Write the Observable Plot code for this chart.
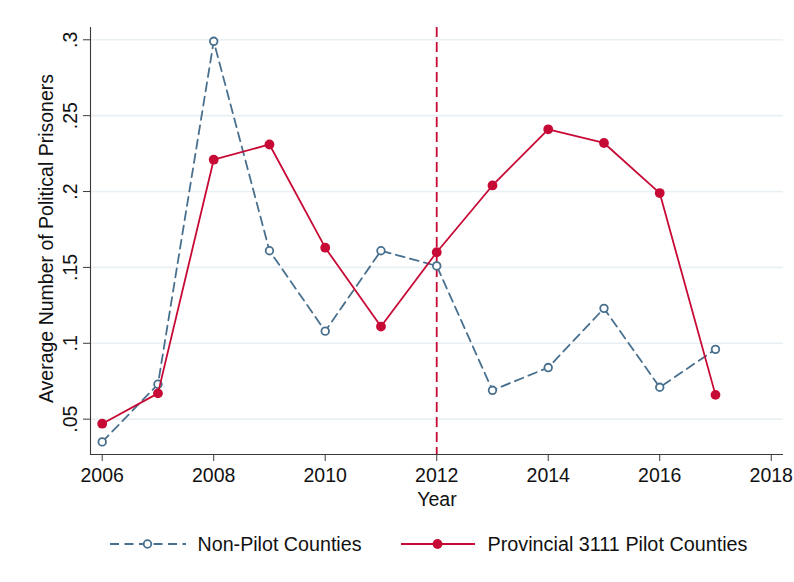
<!DOCTYPE html>
<html><head><meta charset="utf-8">
<script src="https://cdn.jsdelivr.net/npm/d3@7"></script>
<script src="https://cdn.jsdelivr.net/npm/@observablehq/plot@0.6"></script>
<style>
body{margin:0;background:#fff;font-family:"Liberation Sans",Arial,Helvetica,sans-serif;}
#wrap{position:relative;width:794px;height:582px;overflow:hidden;}
#chart svg{display:block;}
#legend{position:absolute;left:0;top:0;width:794px;height:582px;pointer-events:none;}
</style></head><body>
<div id="wrap"><div id="chart"></div><svg id="legend" width="794" height="582"></svg></div>
<script>
const years = [2006, 2007, 2008, 2009, 2010, 2011, 2012, 2013, 2014, 2015, 2016, 2017];
const nonPilot = [0.035, 0.073, 0.299, 0.161, 0.108, 0.161, 0.151, 0.069, 0.084, 0.123, 0.071, 0.096];
const pilot = [0.047, 0.067, 0.221, 0.231, 0.163, 0.111, 0.160, 0.204, 0.241, 0.232, 0.199, 0.066];
const xTicks = [2006, 2008, 2010, 2012, 2014, 2016, 2018];
const yTicks = [0.05, 0.1, 0.15, 0.2, 0.25, 0.3];
const yTickLabels = [".05", ".1", ".15", ".2", ".25", ".3"];
const seriesNames = ["Non-Pilot Counties", "Provincial 3111 Pilot Counties"];
const policyYear = [2012];
const xLabel = "Year";
const yLabel = "Average Number of Political Prisoners";

const blue = "#48708e";
const red = "#c70a35";
const axisColor = "#3a3a3a";
const font = '"Liberation Sans", Arial, Helvetica, sans-serif';

const npData = years.map((y, i) => ({year: y, value: nonPilot[i]}));
const pData = years.map((y, i) => ({year: y, value: pilot[i]}));
const xDom = [2005.79, 2018.22];
const yDom = [0.0267, 0.3081];

const chart = Plot.plot({
  width: 794,
  height: 515,
  marginLeft: 90,
  marginRight: 11,
  marginTop: 27,
  marginBottom: 61,
  style: {fontFamily: font, fontSize: "19px", color: "#111", background: "#fff"},
  x: {domain: xDom},
  y: {domain: yDom},
  marks: [
    Plot.gridY(yTicks, {stroke: "#e9f0f3", strokeOpacity: 1, strokeWidth: 1.6}),
    Plot.ruleY([yDom[0]], {stroke: axisColor, strokeWidth: 1.1}),
    Plot.ruleX([xDom[0]], {stroke: axisColor, strokeWidth: 1.1}),
    Plot.axisX(xTicks, {tickSize: 7, tickPadding: 7, stroke: axisColor, tickFormat: d => String(d), label: null, fontSize: 19.5, fill: "#111"}),
    Plot.axisY(yTicks, {tickSize: 7, tickPadding: 7, tickRotate: -90, stroke: axisColor, tickFormat: (d, i) => yTickLabels[yTicks.indexOf(d)], label: null, fontSize: 19.5, fill: "#111"}),
    Plot.ruleX(policyYear, {stroke: red, strokeWidth: 1.8, strokeDasharray: "10,5"}),
    Plot.line(npData, {x: "year", y: "value", stroke: blue, strokeWidth: 1.8, strokeDasharray: "9,5.5"}),
    Plot.dot(npData, {x: "year", y: "value", r: 3.8, stroke: blue, strokeWidth: 1.8, fill: "white"}),
    Plot.line(pData, {x: "year", y: "value", stroke: red, strokeWidth: 1.8}),
    Plot.dot(pData, {x: "year", y: "value", r: 4.9, fill: red, stroke: "none"}),
    Plot.text([xLabel], {frameAnchor: "bottom", dy: 51, lineAnchor: "bottom", fontSize: 19.5, fill: "#111"}),
    Plot.text([yLabel], {frameAnchor: "left", dx: -38, dy: -2.5, rotate: -90, lineAnchor: "bottom", textAnchor: "middle", fontSize: 19.5, fill: "#111"})
  ]
});
document.getElementById("chart").appendChild(chart);

// legend
const leg = d3.select("#legend");
const items = [
  {name: seriesNames[0], x1: 110, x2: 186, cx: 147.5, color: blue, dash: "9,5.5", hollow: true, tx: 197.5, len: 164},
  {name: seriesNames[1], x1: 401, x2: 475, cx: 437.5, color: red, dash: null, hollow: false, tx: 487.5, len: 260}
];
const ly = 544;
for (const it of items) {
  leg.append("line").attr("x1", it.x1).attr("x2", it.x2).attr("y1", ly).attr("y2", ly)
    .attr("stroke", it.color).attr("stroke-width", 1.8).attr("stroke-dasharray", it.dash);
  if (it.hollow) {
    leg.append("circle").attr("cx", it.cx).attr("cy", ly).attr("r", 3.8).attr("fill", "white").attr("stroke", it.color).attr("stroke-width", 1.8);
  } else {
    leg.append("circle").attr("cx", it.cx).attr("cy", ly).attr("r", 4.9).attr("fill", it.color);
  }
  leg.append("text").attr("x", it.tx).attr("y", ly + 7).text(it.name)
    .attr("font-family", font)
    .attr("font-size", 19.6).attr("fill", "#111")
    .attr("textLength", it.len).attr("lengthAdjust", "spacingAndGlyphs");
}
</script>
</body></html>
